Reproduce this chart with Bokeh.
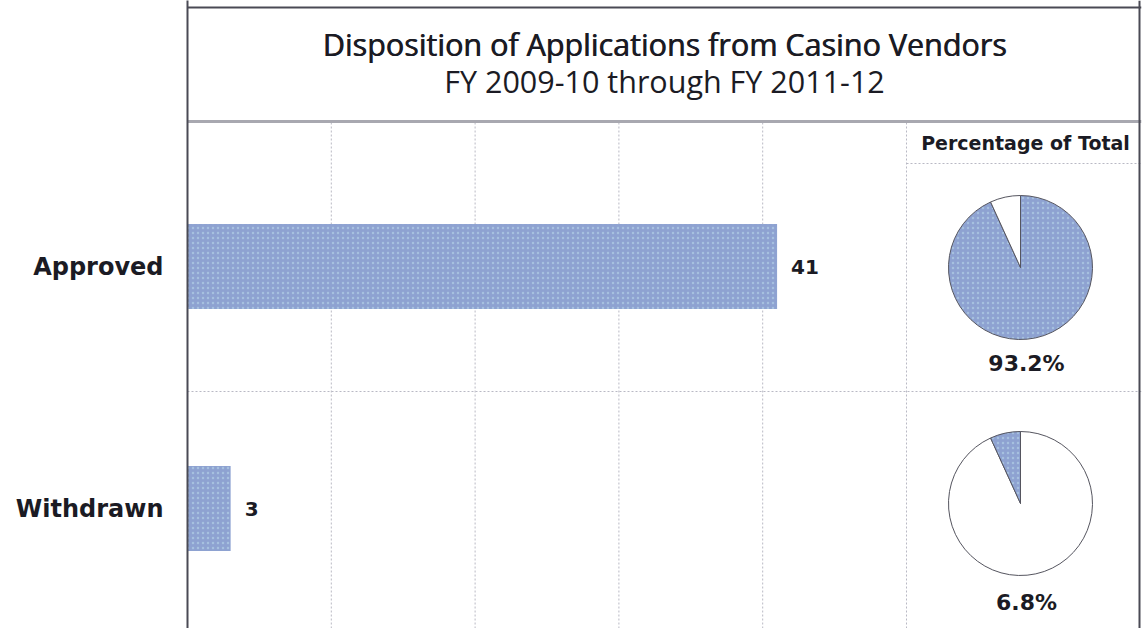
import math
from bokeh.plotting import figure
from bokeh.models import Range1d, FixedTicker, Span
from bokeh.core.properties import value
from bokeh.embed import file_html
from bokeh.resources import INLINE

# ---- data ----
categories = ["Approved", "Withdrawn"]
counts = [41, 3]
pct_labels = ["93.2%", "6.8%"]
grid_ticks = [10, 20, 30, 40, 50]
title_lines = ["Disposition of Applications from Casino Vendors",
               "FY 2009-10 through FY 2011-12"]
pie_header = "Percentage of Total"

# ---- layout (y measured up from bottom of frame, in px) ----
W, H = 1148, 628
BORDER_L, BORDER_R = 187, 7
frame_w = W - BORDER_L - BORDER_R
px_per_unit = 14.38
x_end = frame_w / px_per_unit
y_top = H
title_bottom = 507
header_line = 465
row_divider = 237
row_centers = [362, 120]
pie_centers_y = [361, 125]
pie_label_y = [265, 26]
title_y = [585, 548]
header_y = 486
bar_h = 85
pie_x = (1020 - BORDER_L) / px_per_unit
label_x = (1026 - BORDER_L) / px_per_unit
header_x = (1025 - BORDER_L) / px_per_unit
pie_r = 72

BLUE = "#8ea2d1"
DOTS = "#c4e4f0"
TEXT = "#1b1b24"
GRID = "#b9b9c4"
BORDER = "#4a4a55"

p = figure(width=W, height=H, output_backend="svg", toolbar_location=None,
           x_range=Range1d(0, x_end), y_range=Range1d(0, y_top),
           x_axis_location=None, min_border_left=BORDER_L, min_border_right=BORDER_R,
           min_border_top=0, min_border_bottom=0)
p.outline_line_color = None
p.xgrid.visible = False
p.ygrid.visible = False
p.background_fill_color = "white"

# y axis with category labels
ax = p.yaxis[0]
ax.ticker = FixedTicker(ticks=row_centers)
ax.major_label_overrides = {c: lab for c, lab in zip(row_centers, categories)}
ax.axis_line_color = BORDER
ax.axis_line_width = 2
ax.major_tick_line_color = None
ax.minor_tick_line_color = None
ax.major_label_standoff = 18
ax.major_label_text_font = "DejaVu Sans"
ax.major_label_text_font_style = "bold"
ax.major_label_text_font_size = "24px"
ax.major_label_text_color = TEXT

# gridlines in bar area
p.segment(x0=grid_ticks, x1=grid_ticks, y0=[0] * len(grid_ticks), y1=[title_bottom] * len(grid_ticks),
          line_color=GRID, line_width=1, line_dash="2 2")
# row divider and header line
p.segment(x0=[0], x1=[x_end], y0=[row_divider], y1=[row_divider],
          line_color=GRID, line_width=1, line_dash="2 2")
p.segment(x0=[grid_ticks[-1]], x1=[x_end], y0=[header_line], y1=[header_line],
          line_color=GRID, line_width=1, line_dash="2 2")
# title box bottom line
p.segment(x0=[0], x1=[x_end], y0=[title_bottom], y1=[title_bottom],
          line_color="#a8a8b0", line_width=3)
# frame top and right borders
p.add_layout(Span(location=H - 7, dimension="width", line_color=BORDER, line_width=2))
p.add_layout(Span(location=(1139 - BORDER_L) / px_per_unit, dimension="height",
                  line_color=BORDER, line_width=2))

# bars
p.hbar(y=row_centers, left=0, right=counts, height=bar_h, fill_color=BLUE, line_color=None,
       hatch_pattern="dot", hatch_color=DOTS, hatch_alpha=0.45, hatch_scale=5, hatch_weight=1)
p.text(x=counts, y=row_centers, text=[str(c) for c in counts], x_offset=14,
       text_font=value("DejaVu Sans"), text_font_style="bold", text_font_size="20px",
       text_color=TEXT, text_align="left", text_baseline="middle")

# title (first line slightly heavier: drawn twice with a sub-pixel shift)
p.text(x=[x_end / 2] * 2, y=[title_y[0]] * 2, text=[title_lines[0]] * 2, x_offset=[0, 0.7],
       text_font=value("Open Sans"), text_font_size="30.5px", text_color=TEXT,
       text_align="center", text_baseline="middle")
p.text(x=[x_end / 2], y=[title_y[1]], text=[title_lines[1]], text_font=value("Open Sans"),
       text_font_size="30.5px", text_color=TEXT, text_align="center", text_baseline="middle")

# pie column header
p.text(x=[header_x], y=[header_y], text=[pie_header], text_font=value("DejaVu Sans"),
       text_font_style="bold", text_font_size="19px", text_color=TEXT,
       text_align="center", text_baseline="middle")

# pies: slices clockwise from 12 o'clock in category order
total = sum(counts)
for row, cy in enumerate(pie_centers_y):
    start = math.pi / 2
    for k, c in enumerate(counts):
        sweep = 2 * math.pi * c / total
        end = start - sweep
        kw = dict(fill_color=BLUE, hatch_pattern="dot", hatch_color=DOTS,
                  hatch_alpha=0.45, hatch_scale=5, hatch_weight=1) if k == row else dict(fill_color="white")
        p.wedge(x=[pie_x], y=[cy], radius=pie_r, radius_units="screen",
                start_angle=start, end_angle=end, direction="clock",
                line_color="#55555f", line_width=1, **kw)
        start = end
    p.text(x=[label_x], y=[pie_label_y[row]], text=[pct_labels[row]],
           text_font=value("DejaVu Sans"), text_font_style="bold", text_font_size="22px",
           text_color=TEXT, text_align="center", text_baseline="middle")

open("out.html", "w").write(file_html(p, INLINE))
